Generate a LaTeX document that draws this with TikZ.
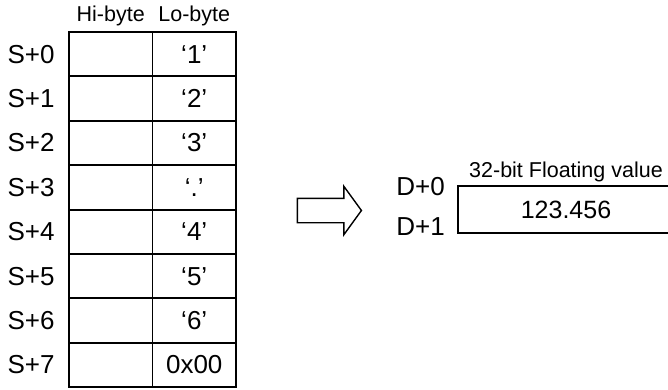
\documentclass[tikz,border=0pt]{standalone}
\usepackage{fontspec}
\setmainfont{Liberation Sans}
\usetikzlibrary{shapes.arrows,positioning}

\begin{document}
\begin{tikzpicture}[x=1pt, y=-1pt,
  cell/.style={draw, line width=1.9pt, minimum width=83.5pt, minimum height=44.4pt, inner sep=0pt, font=\fontsize{26}{30}\selectfont},
  lbl/.style={inner sep=0pt, font=\fontsize{26}{30}\selectfont},
  hdr/.style={inner sep=0pt, font=\fontsize{21.5}{24}\selectfont}]
\clip (0,0) rectangle (668,389);
\foreach \i/\t in {0/‘1’,1/‘2’,2/‘3’,3/‘.’,4/‘4’,5/‘5’,6/‘6’,7/0x00} {
  \node[cell] (hi\i) at (110.75, 54.2+44.4*\i) {};
  \node[cell] (lo\i) at (194.25, 54.2+44.4*\i) {\t};
  \node[lbl] (s\i) at (31, 54.2+44.4*\i) {S+\i};
}
\node[hdr, above=5pt of hi0] (hib) {Hi-byte};
\node[hdr, above=5pt of lo0] (lob) {Lo-byte};
% conversion arrow
\node[single arrow, draw, line width=1.4pt, minimum height=64pt, inner xsep=0pt, inner ysep=11.5pt,
  single arrow head extend=12pt, single arrow tip angle=108] (conv) at (325, 210.5) {};
% result
\node[draw, line width=1.4pt, minimum width=216pt, minimum height=47pt, font=\fontsize{25}{28}\selectfont] (flt) at (566, 209.5) {123.456};
\node[hdr, above=3pt of flt] (cap) {32-bit Floating value};
\node[lbl, anchor=east] (d0) at (445, 187) {D+0};
\node[lbl, anchor=east] (d1) at (445, 227) {D+1};
\end{tikzpicture}
\end{document}
